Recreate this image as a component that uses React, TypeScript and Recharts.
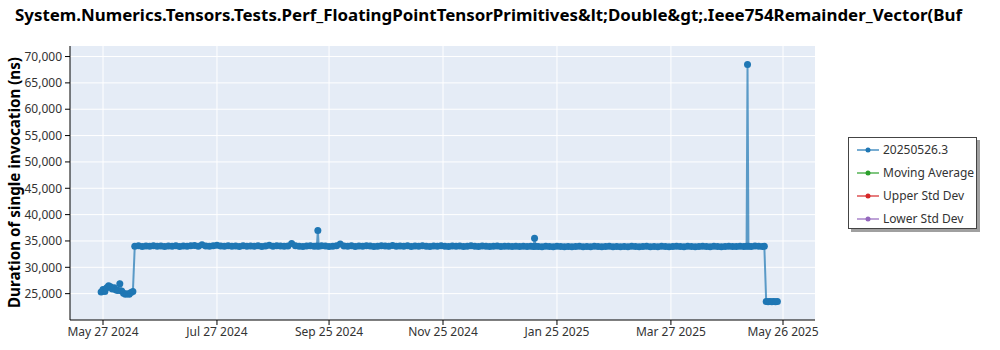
import { LineChart, Line, XAxis, YAxis, CartesianGrid, Legend } from "recharts";

// one row per month; durations below follow the same rows
const runDates = [
  "2024-05-26", "2024-05-27", "2024-05-28", "2024-05-29", "2024-05-30", "2024-05-31",
  "2024-06-01", "2024-06-02", "2024-06-03", "2024-06-04", "2024-06-05", "2024-06-06",
  "2024-06-07", "2024-06-08", "2024-06-09", "2024-06-10", "2024-06-11", "2024-06-12",
  "2024-06-13", "2024-06-15", "2024-06-17", "2024-06-19", "2024-06-21", "2024-06-23", "2024-06-25", "2024-06-27", "2024-06-29",
  "2024-07-01", "2024-07-03", "2024-07-05", "2024-07-07", "2024-07-09", "2024-07-11", "2024-07-13", "2024-07-15",
  "2024-07-17", "2024-07-19", "2024-07-21", "2024-07-23", "2024-07-25", "2024-07-27", "2024-07-29", "2024-07-31",
  "2024-08-02", "2024-08-04", "2024-08-06", "2024-08-08", "2024-08-10", "2024-08-12", "2024-08-14", "2024-08-16",
  "2024-08-18", "2024-08-20", "2024-08-22", "2024-08-24", "2024-08-26", "2024-08-28", "2024-08-30",
  "2024-09-01", "2024-09-03", "2024-09-05", "2024-09-07", "2024-09-09", "2024-09-11", "2024-09-13", "2024-09-15",
  "2024-09-17", "2024-09-18T12:00Z", "2024-09-19", "2024-09-19T12:00Z", "2024-09-21", "2024-09-23", "2024-09-25", "2024-09-27", "2024-09-29",
  "2024-10-01", "2024-10-03", "2024-10-05", "2024-10-07", "2024-10-09", "2024-10-11", "2024-10-13", "2024-10-15",
  "2024-10-17", "2024-10-19", "2024-10-21", "2024-10-23", "2024-10-25", "2024-10-27", "2024-10-29", "2024-10-31",
  "2024-11-02", "2024-11-04", "2024-11-06", "2024-11-08", "2024-11-10", "2024-11-12", "2024-11-14", "2024-11-16",
  "2024-11-18", "2024-11-20", "2024-11-22", "2024-11-24", "2024-11-26", "2024-11-28", "2024-11-30",
  "2024-12-02", "2024-12-04", "2024-12-06", "2024-12-08", "2024-12-10", "2024-12-12", "2024-12-14", "2024-12-16",
  "2024-12-18", "2024-12-20", "2024-12-22", "2024-12-24", "2024-12-26", "2024-12-28", "2024-12-30",
  "2025-01-01", "2025-01-03", "2025-01-05", "2025-01-07", "2025-01-09", "2025-01-11", "2025-01-12T12:00Z", "2025-01-13", "2025-01-13T12:00Z",
  "2025-01-15", "2025-01-17", "2025-01-19", "2025-01-21", "2025-01-23", "2025-01-25", "2025-01-27", "2025-01-29", "2025-01-31",
  "2025-02-02", "2025-02-04", "2025-02-06", "2025-02-08", "2025-02-10", "2025-02-12", "2025-02-14",
  "2025-02-16", "2025-02-18", "2025-02-20", "2025-02-22", "2025-02-24", "2025-02-26", "2025-02-28",
  "2025-03-02", "2025-03-04", "2025-03-06", "2025-03-08", "2025-03-10", "2025-03-12", "2025-03-14", "2025-03-16",
  "2025-03-18", "2025-03-20", "2025-03-22", "2025-03-24", "2025-03-26", "2025-03-28", "2025-03-30",
  "2025-04-01", "2025-04-03", "2025-04-05", "2025-04-07", "2025-04-09", "2025-04-11", "2025-04-13", "2025-04-15",
  "2025-04-17", "2025-04-19", "2025-04-21", "2025-04-23", "2025-04-25", "2025-04-27", "2025-04-29",
  "2025-05-01", "2025-05-03", "2025-05-05", "2025-05-06T12:00Z", "2025-05-07", "2025-05-07T12:00Z", "2025-05-09", "2025-05-11",
  "2025-05-13", "2025-05-15", "2025-05-16",
  "2025-05-17", "2025-05-18", "2025-05-19", "2025-05-20", "2025-05-21", "2025-05-22", "2025-05-23",
];

const durations = [
  25300, 25800, 25400, 26100, 26500, 26300,
  25900, 26100, 25700, 25600, 26900, 25500,
  25100, 24900, 25000, 24900, 25200, 25400,
  34000, 34100, 33950, 34050, 34000, 34100, 34000, 34050, 33950,
  34050, 34000, 34100, 33950, 34050, 34000, 34100, 34150,
  34000, 34300, 34050, 34000, 34100, 34200, 34050, 34000,
  34100, 34000, 34050, 33950, 34100, 34000, 34050, 34000,
  34100, 33950, 34050, 34200, 34000, 34100, 34050,
  34000, 34050, 34500, 34100, 34000, 33950, 34050, 34100,
  34000, 34050, 37000, 34000, 34100, 34050, 33950, 34000, 34100,
  34400, 34050, 34000, 34100, 33950, 34050, 34000, 34100,
  34050, 33950, 34000, 34100, 34050, 34000, 34150, 34000,
  34050, 34000, 34100, 33950, 34050, 34000, 34100, 34000,
  33950, 34050, 34000, 34100, 34000, 33950, 34050,
  34000, 34050, 33950, 34000, 34100, 34000, 33950, 34050,
  34000, 33950, 34000, 34050, 33950, 34000, 34000,
  33950, 34000, 33950, 34000, 33950, 34000, 33950, 35500, 34000,
  33950, 33900, 34000, 33950, 33900, 34000, 33950, 33900, 33950,
  33900, 33950, 34000, 33900, 33950, 33900, 34000,
  33950, 33900, 33950, 34000, 33900, 33950, 33900,
  33950, 33900, 34000, 33950, 33900, 33950, 34000, 33900,
  33950, 33900, 34000, 33950, 33900, 33950, 34000,
  33950, 33900, 34000, 33950, 33900, 33950, 34000, 33950,
  33900, 34000, 33950, 33900, 33950, 34000, 33950,
  33950, 34000, 33950, 34000, 68500, 34000, 33950, 34050,
  34000, 33950, 34000,
  23500, 23450, 23500, 23450, 23500, 23450, 23500,
];

const xTickDates = ["2024-05-27", "2024-07-27", "2024-09-25", "2024-11-25", "2025-01-25", "2025-03-27", "2025-05-26"];
const yTicks = [25000, 30000, 35000, 40000, 45000, 50000, 55000, 60000, 65000, 70000];

const legendItems = [
  { name: "20250526.3", color: "#1f77b4" },
  { name: "Moving Average", color: "#2ca02c" },
  { name: "Upper Std Dev", color: "#d62728" },
  { name: "Lower Std Dev", color: "#9467bd" },
];

const title =
  "System.Numerics.Tensors.Tests.Perf_FloatingPointTensorPrimitives&lt;Double&gt;.Ieee754Remainder_Vector(Buf";
const yLabel = "Duration of single invocation (ns)";

const months = ["Jan", "Feb", "Mar", "Apr", "May", "Jun", "Jul", "Aug", "Sep", "Oct", "Nov", "Dec"];

const data = runDates.map((d, i) => ({ t: Date.parse(d), value: durations[i] }));
const xTicks = xTickDates.map((d) => Date.parse(d));
const xDomain = [Date.UTC(2024, 4, 9, 8), Date.UTC(2025, 5, 12, 3)];
const yDomain = [20000, 72000];
const minorTicks = Array.from({ length: 53 }, (_, i) => 20000 + i * 1000);

const font = "'Noto Sans', 'Open Sans', sans-serif";

function formatDate(t: number) {
  const d = new Date(t);
  return `${months[d.getUTCMonth()]} ${d.getUTCDate()} ${d.getUTCFullYear()}`;
}

function LegendBox() {
  return (
    <div
      style={{
        width: 127,
        height: 90,
        border: "1px solid #444",
        background: "#fff",
        boxShadow: "3px 3px 0 #a0a0a0",
        fontFamily: font,
        fontSize: 12,
        color: "#333",
      }}
    >
      {legendItems.map((item) => (
        <div key={item.name} style={{ height: 23, display: "flex", alignItems: "center" }}>
          <svg width={22} height={10} style={{ marginLeft: 8, marginRight: 4 }}>
            <line x1={0} y1={5} x2={22} y2={5} stroke={item.color} strokeOpacity={0.8} strokeWidth={1.5} />
            <circle cx={11} cy={5} r={2.5} fill={item.color} />
          </svg>
          <span>{item.name}</span>
        </div>
      ))}
    </div>
  );
}

export default function App() {
  const tickStyle = { fontSize: 12, fill: "#333", fontFamily: font };
  return (
    <div style={{ position: "absolute", left: 0, top: 0, width: 1000, height: 350, background: "#fff" }}>
      <svg width={1000} height={30} style={{ position: "absolute", left: 0, top: 0 }}>
        <text x={15} y={21} fontFamily={font} fontWeight={700} fontSize={15.5} fill="#000" textLength={947} lengthAdjust="spacingAndGlyphs">
          {title}
        </text>
      </svg>
      <svg width={30} height={350} style={{ position: "absolute", left: 0, top: 0 }}>
        <text
          transform="translate(20,182.5) rotate(-90)"
          textAnchor="middle"
          fontFamily={font}
          fontWeight={700}
          fontSize={16}
          fill="#000"
          textLength={251}
          lengthAdjust="spacingAndGlyphs"
        >
          {yLabel}
        </text>
      </svg>
      <LineChart
        width={1000}
        height={350}
        data={data}
        margin={{ top: 46, right: 185, left: 0, bottom: 0 }}
        style={{ position: "absolute", left: 0, top: 0 }}
      >
        <CartesianGrid stroke="#fff" strokeWidth={1} fill="#e5ecf6" fillOpacity={1} horizontalValues={yTicks} verticalValues={xTicks} />
        <YAxis
          yAxisId="minor"
          type="number"
          domain={yDomain}
          ticks={minorTicks}
          interval={0}
          tick={false}
          tickSize={3}
          width={0}
          axisLine={{ stroke: "#000" }}
          tickLine={{ stroke: "#000" }}
        />
        <XAxis
          dataKey="t"
          type="number"
          domain={xDomain}
          ticks={xTicks}
          interval={0}
          tickFormatter={formatDate}
          tick={tickStyle}
          tickSize={5}
          tickMargin={2}
          height={30}
          axisLine={{ stroke: "#000" }}
          tickLine={{ stroke: "#000" }}
        />
        <XAxis xAxisId="frame" orientation="top" dataKey="t" type="number" domain={xDomain} tick={false} tickLine={false} height={0} axisLine={{ stroke: "#000" }} />
        <YAxis
          type="number"
          domain={yDomain}
          ticks={yTicks}
          interval={0}
          tickFormatter={(v: number) => v.toLocaleString("en-US")}
          tick={tickStyle}
          tickSize={5}
          tickMargin={3}
          width={70}
          axisLine={{ stroke: "#000" }}
          tickLine={{ stroke: "#000" }}
        />
        <YAxis yAxisId="frame" orientation="right" type="number" domain={yDomain} tick={false} tickLine={false} width={0} axisLine={{ stroke: "#000" }} />
        <Line
          dataKey="value"
          stroke="#1f77b4"
          strokeOpacity={0.7}
          strokeWidth={2}
          dot={{ r: 3.5, fill: "#1f77b4", fillOpacity: 1, strokeWidth: 0 }}
          isAnimationActive={false}
        />
        <Legend
          layout="vertical"
          align="center"
          verticalAlign="middle"
          wrapperStyle={{ left: 848, top: 137, width: 130, height: 93 }}
          content={() => <LegendBox />}
        />
      </LineChart>
    </div>
  );
}
